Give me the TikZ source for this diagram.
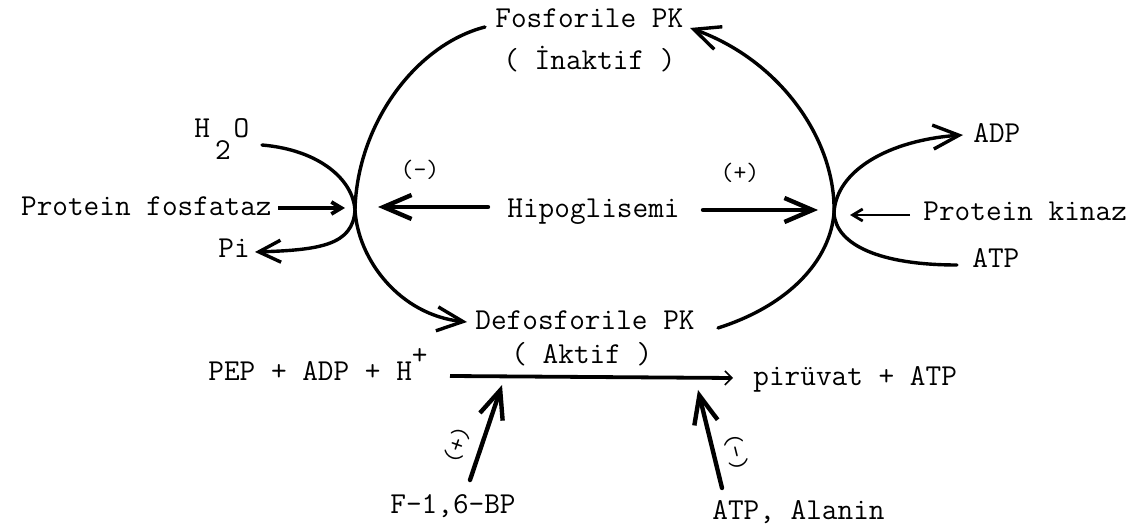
\documentclass[tikz,border=0pt]{standalone}
\usepackage{fontspec}
\usetikzlibrary{arrows.meta,calc}
\begin{document}
\begin{tikzpicture}[x=0.5pt,y=-0.5pt,
  txt/.style={inner sep=0pt, font=\ttfamily\fontsize{15.2}{18}\selectfont\addfontfeature{FakeBold=1.2}},
  sgn/.style={inner sep=0pt, font=\ttfamily\fontsize{12.5}{14}\selectfont\addfontfeature{FakeBold=1}},
  curve/.style={line width=1.7pt, line cap=round},
  bighead/.style={-{Straight Barb[length=13pt,width=12pt]}},
  midhead/.style={-{Straight Barb[length=11pt,width=11pt]}},
  fatarrow/.style={line width=2.2pt, line cap=round, -{Straight Barb[length=14pt,width=12pt]}},
  thinarrow/.style={line width=1.9pt, -{Straight Barb[length=5pt,width=6pt]}},
  rxnarrow/.style={line width=1.9pt, -{Straight Barb[length=3.5pt,width=7pt,line width=0.8pt]}}]
\useasboundingbox (0,0) rectangle (1142,529);

% labels of the phosphorylation cycle
\node[txt,anchor=base west] (fos)   at (495,28)  {Fosforile PK};
\node[txt,anchor=base west] (inak)  at (503,70)  {( İnaktif )};
\node[txt,anchor=base west] (defos) at (475,330) {Defosforile PK};
\node[txt,anchor=base west] (aktif) at (511,364) {( Aktif )};
\node[txt,anchor=base west] (hipo)  at (507,218) {Hipoglisemi};
\node[txt,anchor=base east] (pfos)  at (272,216) {Protein fosfataz};
\node[txt,anchor=base west] (pkin)  at (923,221) {Protein kinaz};
\node[txt,anchor=base west] (adp)   at (973,143) {ADP};
\node[txt,anchor=base west] (atp)   at (972,268) {ATP};
\node[txt,anchor=base west] (h2o)   at (194,138) {H\kern2.5pt\raisebox{-11pt}{2}\kern1.5pt O};
\node[txt,anchor=base west] (pi)    at (218,258) {Pi};
\node[sgn] (minus) at (420,170) {(-)};
\node[sgn] (plus)  at (740,173) {(+)};

% pyruvate kinase reaction
\node[txt,anchor=base west] (pep)   at (208,381) {PEP + ADP + H\raisebox{8pt}{+}};
\node[txt,anchor=base west] (pir)   at (753,386) {pirüvat + ATP};
\node[txt,anchor=base west] (fbp)   at (390,514) {F-1,6-BP};
\node[txt,anchor=base west] (atpal) at (712,519) {ATP, Alanin};
\node[sgn,rotate=71]  (plusb)  at (457,445) {(+)};
\node[sgn,rotate=-76] (minusb) at (736,452) {(-)};

% crossing points of the cycle arcs and the effect points on the reaction arrow
\coordinate (xl) at (355,210);
\coordinate (xr) at (834,213);
\coordinate (r1) at (502,385);
\coordinate (r2) at (698,390);

% dephosphorylation: Fosforile PK -> Defosforile PK
\draw[curve,bighead] ($(fos.base west)+(-10,-1)$)
  .. controls (415,45) and (357,125) .. (xl)
  .. controls (358,260) and (400,315) .. ($(defos.base west)+(-8,-8)$);
% phosphorylation: Defosforile PK -> Fosforile PK
\draw[curve,bighead] ($(defos.base west)+(243,-2)$)
  .. controls (790,305) and (830,260) .. (xr)
  .. controls (836,140) and (780,60) .. ($(fos.base west)+(195,0)$);

% H2O in, Pi out
\draw[curve,midhead] ($(h2o.base west)+(68,7)$)
  .. controls (320,150) and (353,180) .. (xl)
  .. controls (353,245) and (320,250) .. ($(pi.base west)+(37,-6)$);
% ATP in, ADP out
\draw[curve,bighead] ($(atp.base west)+(-15,-3)$)
  .. controls (880,265) and (836,245) .. (xr)
  .. controls (836,170) and (890,140) .. ($(adp.base west)+(-10,-8)$);

% enzymes and signal
\draw[thinarrow] ($(pfos.base east)+(6,-8)$) -- ($(xl)+(-10,-2)$);
\draw[thinarrow,line width=1.4pt] ($(pkin.base west)+(-13,-6)$) -- ($(xr)+(16,2)$);
\draw[fatarrow] ($(hipo.base west)+(-19,-11)$) -- ($(xl)+(23,-3)$);
\draw[fatarrow] ($(hipo.base west)+(196,-8)$) -- ($(xr)+(-16,-3)$);

% reaction arrow and its effectors
\draw[rxnarrow] ($(pep.base west)+(242,-5)$) -- ($(pir.base west)+(-20,-8)$);
\draw[fatarrow] ($(fbp.base west)+(80,-34)$) -- (r1);
\draw[fatarrow] ($(atpal.base west)+(10,-31)$) -- (r2);
\end{tikzpicture}
\end{document}
